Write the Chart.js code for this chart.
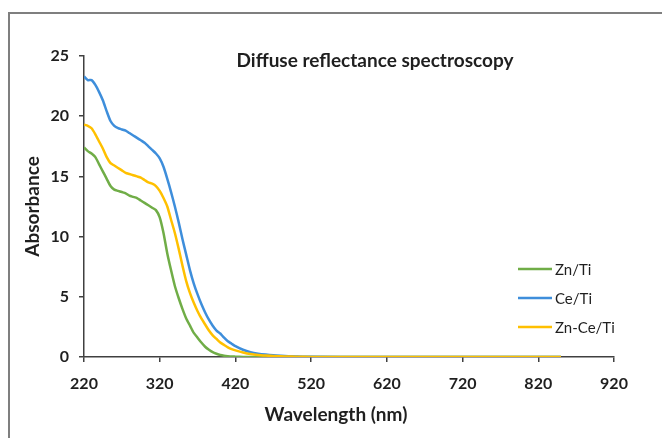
<!DOCTYPE html>
<html>
<head>
<meta charset="utf-8">
<script src="https://cdn.jsdelivr.net/npm/chart.js@4"></script>
<style>
  html, body { margin: 0; padding: 0; background: #fff; overflow: hidden; }
  #wrap { position: relative; width: 662px; height: 438px; }
  #frame {
    position: absolute; left: 8px; top: 12px; width: 700px; height: 480px;
    border: 2px solid #7f7f7f; box-sizing: border-box;
  }
  canvas { position: absolute; left: 0; top: 0; }
</style>
</head>
<body>
<div id="wrap">
  <div id="frame"></div>
  <canvas id="chart" width="662" height="438"></canvas>
</div>
<script>
// wavelength grid (nm)
const wavelengths = [220, 225, 230, 235, 240, 245, 250, 255, 260, 265,
  270, 275, 280, 285, 290, 295, 300, 305, 310, 315,
  320, 325, 330, 335, 340, 345, 350, 355, 360, 365,
  370, 375, 380, 385, 390, 395, 400, 405, 410, 415,
  420, 430, 440, 450, 460, 470, 480, 490, 500, 520,
  600, 700, 800, 850];

// absorbance values
const znTi = [17.4, 17.1, 16.9, 16.6, 16.0, 15.4, 14.8, 14.2, 13.9, 13.8,
  13.7, 13.6, 13.4, 13.3, 13.2, 13.0, 12.8, 12.6, 12.4, 12.2,
  11.6, 10.3, 8.6, 7.2, 5.9, 4.9, 4.0, 3.2, 2.6, 2.0,
  1.6, 1.2, 0.85, 0.6, 0.4, 0.27, 0.17, 0.11, 0.07, 0.04,
  0.03, 0.01, 0, 0, 0, 0, 0, 0, 0, 0,
  0, 0, 0, 0];

const ceTi = [23.3, 23.0, 23.0, 22.6, 22.0, 21.3, 20.4, 19.6, 19.2, 19.0,
  18.9, 18.8, 18.6, 18.4, 18.2, 18.0, 17.8, 17.5, 17.2, 16.9,
  16.5, 15.8, 14.8, 13.7, 12.5, 11.2, 9.8, 8.5, 7.2, 6.1,
  5.2, 4.4, 3.7, 3.1, 2.6, 2.2, 1.95, 1.6, 1.3, 1.1,
  0.9, 0.6, 0.4, 0.28, 0.2, 0.14, 0.1, 0.07, 0.05, 0.02,
  0, 0, 0, 0];

const znCeTi = [19.3, 19.2, 19.0, 18.5, 17.9, 17.3, 16.6, 16.1, 15.9, 15.7,
  15.5, 15.3, 15.2, 15.1, 15.0, 14.9, 14.7, 14.5, 14.4, 14.2,
  13.8, 13.2, 12.5, 11.4, 10.3, 9.0, 7.6, 6.3, 5.3, 4.5,
  3.8, 3.2, 2.7, 2.2, 1.8, 1.5, 1.2, 1.0, 0.8, 0.65,
  0.55, 0.38, 0.25, 0.17, 0.12, 0.08, 0.06, 0.04, 0.03, 0.01,
  0, 0, 0, 0];

const seriesNames = ["Zn/Ti", "Ce/Ti", "Zn-Ce/Ti"];
const seriesColors = ["#70AD47", "#3E8EDB", "#FFC000"];
const xTicks = [220, 320, 420, 520, 620, 720, 820, 920];
const yTicks = [0, 5, 10, 15, 20, 25];

const chartTitle = "Diffuse reflectance spectroscopy";
const xTitle = "Wavelength (nm)";
const yTitle = "Absorbance";

Chart.defaults.font.family = "Lato, 'DejaVu Sans', sans-serif";
Chart.defaults.color = "#1f1f1f";

function toPoints(values) {
  return values.map((v, i) => ({ x: wavelengths[i], y: v }));
}

// title, axis titles and in-plot legend
const decorations = {
  id: "decorations",
  afterDraw(chart) {
    const ctx = chart.ctx;
    const area = chart.chartArea;
    ctx.save();
    ctx.fillStyle = "#1f1f1f";
    ctx.textAlign = "center";
    ctx.textBaseline = "middle";
    ctx.font = "bold 19px Lato";
    ctx.fillText(chartTitle, 375, 61);

    ctx.font = "bold 19px Lato";
    ctx.fillText(xTitle, 336, 415);

    ctx.save();
    ctx.translate(33, (area.top + area.bottom) / 2);
    ctx.rotate(-Math.PI / 2);
    ctx.fillText(yTitle, 0, 0);
    ctx.restore();

    // legend
    ctx.font = "15px Lato";
    ctx.textAlign = "left";
    for (let i = 0; i < seriesNames.length; i++) {
      const y = 269 + i * 29;
      ctx.strokeStyle = seriesColors[i];
      ctx.lineWidth = 2.5;
      ctx.beginPath();
      ctx.moveTo(518, y);
      ctx.lineTo(552, y);
      ctx.stroke();
      ctx.fillText(seriesNames[i], 555, y + 1);
    }
    ctx.restore();
  }
};

const ctx = document.getElementById("chart").getContext("2d");
new Chart(ctx, {
  type: "line",
  data: {
    datasets: [
      { label: seriesNames[0], data: toPoints(znTi), borderColor: seriesColors[0], order: 3 },
      { label: seriesNames[1], data: toPoints(ceTi), borderColor: seriesColors[1], order: 2 },
      { label: seriesNames[2], data: toPoints(znCeTi), borderColor: seriesColors[2], order: 1 }
    ]
  },
  options: {
    responsive: false,
    animation: false,
    layout: { padding: { top: 56, right: 48, bottom: 0, left: 0 } },
    elements: {
      line: { borderWidth: 2.5, tension: 0.2, fill: false },
      point: { radius: 0 }
    },
    scales: {
      x: {
        type: "linear",
        min: 220,
        max: 920,
        afterBuildTicks: (scale) => { scale.ticks = xTicks.map((v) => ({ value: v })); },
        afterFit: (scale) => { scale.height = 81; },
        grid: { drawOnChartArea: false, tickLength: 5, color: "#404040", lineWidth: 1.5 },
        border: { color: "#404040", width: 1.5 },
        ticks: { font: { size: 16, weight: "bold" }, padding: 12, maxRotation: 0 }
      },
      y: {
        min: 0,
        max: 25,
        afterBuildTicks: (scale) => { scale.ticks = yTicks.map((v) => ({ value: v })); },
        afterFit: (scale) => { scale.width = 84; },
        grid: { drawOnChartArea: false, tickLength: 5, color: "#404040", lineWidth: 1.5 },
        border: { color: "#404040", width: 1.5 },
        ticks: { font: { size: 16, weight: "bold" }, padding: 10 }
      }
    },
    plugins: {
      legend: { display: false },
      tooltip: { enabled: false }
    }
  },
  plugins: [decorations]
});
</script>
</body>
</html>
